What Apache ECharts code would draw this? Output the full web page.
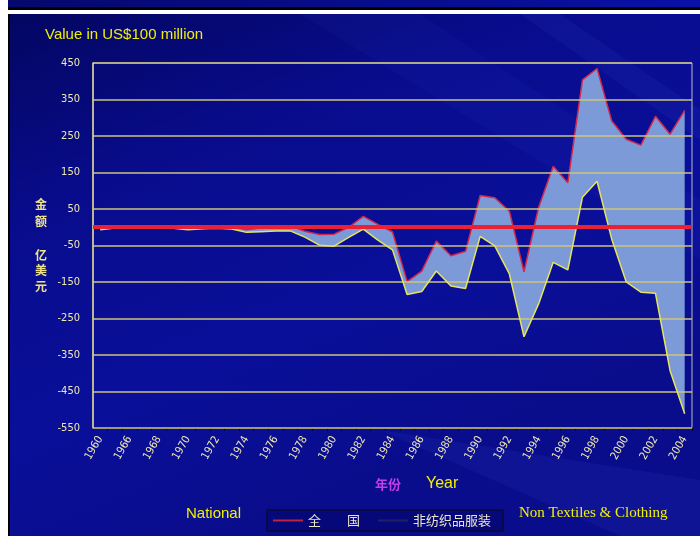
<!DOCTYPE html>
<html>
<head>
<meta charset="utf-8">
<script src="https://cdn.jsdelivr.net/npm/echarts@6/dist/echarts.min.js"></script>
<style>
  html, body { margin: 0; padding: 0; background: #ffffff; }
  .frame { position: absolute; left: 8px; width: 692px; }
  #topStrip { top: 0; height: 7px; background: linear-gradient(90deg, #05086c, #0a10a6); }
  #topRule { top: 7px; height: 3px; background: #000000; }
  #chart { position: absolute; left: 0; top: 0; width: 700px; height: 536px; }
</style>
</head>
<body>
<div class="frame" id="topStrip"></div>
<div class="frame" id="topRule"></div>
<div id="chart"></div>
<script>
// Trade balance, 100 million US$
const years = ['1960', '1965', '1966', '1967', '1968', '1969', '1970', '1971', '1972', '1973',
  '1974', '1975', '1976', '1977', '1978', '1979', '1980', '1981', '1982', '1983',
  '1984', '1985', '1986', '1987', '1988', '1989', '1990', '1991', '1992', '1993',
  '1994', '1995', '1996', '1997', '1998', '1999', '2000', '2001', '2002', '2003', '2004'];

// 全国 (national total)
const national = [-2, 1, 2, 1, 1, 2, -1, 1, 2, 1,
  -7, -2, 1, 4, -11, -20, -19, 0, 30, 8,
  -13, -149, -120, -38, -78, -66, 87, 81, 44, -122,
  54, 167, 122, 404, 435, 292, 241, 225, 304, 255, 320];

// 非纺织品服装 (excluding textiles & clothing)
const nonTextile = [-7, -2, -2, -3, -3, -3, -7, -4, -3, -5,
  -14, -12, -10, -10, -27, -49, -52, -28, -5, -35,
  -62, -184, -176, -120, -161, -168, -25, -51, -128, -300,
  -210, -96, -117, 82, 126, -32, -150, -178, -181, -393, -511];

const yTicks = [-550, 450, 100]; // min, max, step

const chart = echarts.init(document.getElementById('chart'), null, { renderer: 'canvas' });

// gap between the two series, stacked on top of the non-textile line
const gap = national.map((v, i) => v - nonTextile[i]);

const labelColor = '#efe9b2';
const narrowFont = "'Liberation Sans Narrow', 'DejaVu Sans Condensed', sans-serif";

const yNameChars = [['金', 205], ['额', 222], ['亿', 256], ['美', 271], ['元', 287]];

chart.setOption({
  backgroundColor: 'transparent',
  animation: false,
  graphic: [
    // slide panel
    { type: 'rect', z: -100, shape: { x: 8, y: 14, width: 692, height: 522 },
      style: { fill: new echarts.graphic.LinearGradient(0, 0, 0.3, 1, [
        { offset: 0, color: '#030660' },
        { offset: 0.35, color: '#080c8c' },
        { offset: 0.7, color: '#0a0f9a' },
        { offset: 1, color: '#090d8c' }]) } },
    { type: 'rect', z: -100, shape: { x: 8, y: 14, width: 2, height: 522 }, style: { fill: '#000000' } },
    // soft diagonal streaks in the backdrop
    { type: 'polygon', z: -99, shape: { points: [[300, 14], [420, 14], [700, 200], [700, 260]] },
      style: { fill: 'rgba(60,90,230,0.06)' } },
    { type: 'polygon', z: -99, shape: { points: [[520, 14], [560, 14], [700, 110], [700, 140]] },
      style: { fill: 'rgba(90,120,240,0.07)' } },
    { type: 'polygon', z: -99, shape: { points: [[380, 430], [700, 480], [700, 536], [620, 536]] },
      style: { fill: 'rgba(80,110,240,0.08)' } },

    // texts
    { type: 'text', z: 100, left: 45, top: 27,
      style: { text: 'Value in US$100 million', fill: '#f2f000', font: '15px "Liberation Sans", Arial, sans-serif' } },
    ...yNameChars.map(([c, y]) => ({ type: 'text', z: 100, left: 35, top: y - 7,
      style: { text: c, fill: '#efe38a', font: 'bold 12px "Noto Sans CJK SC", sans-serif' } })),
    { type: 'text', z: 100, left: 375, top: 478,
      style: { text: '年份', fill: '#c23ce8', font: 'bold 13px "Noto Sans CJK SC", sans-serif' } },
    { type: 'text', z: 100, left: 426, top: 476,
      style: { text: 'Year', fill: '#f2f000', font: '16px "Liberation Sans", Arial, sans-serif' } },
    { type: 'text', z: 100, left: 186, top: 506,
      style: { text: 'National', fill: '#f2f000', font: '15px "Liberation Sans", Arial, sans-serif' } },
    { type: 'text', z: 100, left: 519, top: 506,
      style: { text: 'Non Textiles & Clothing', fill: '#f2f000', font: '15px "Liberation Serif", "Times New Roman", serif' } }
  ],
  grid: {
    left: 93, right: 8, top: 63, bottom: 108,
    show: true, borderColor: '#b8b8c8', borderWidth: 1, backgroundColor: 'transparent'
  },
  legend: {
    left: 267, top: 510,
    padding: [4, 12, 4, 6],
    itemGap: 18,
    itemWidth: 30, itemHeight: 2,
    icon: 'rect',
    backgroundColor: '#06087a',
    borderColor: '#0a0a3a', borderWidth: 1.5,
    textStyle: { color: '#ebe6c8', fontSize: 13, fontFamily: '"Noto Sans CJK SC", serif' },
    formatter: n => n === '全国' ? '全　　国' : n,
    data: [
      { name: '全国', itemStyle: { color: '#c0223e' } },
      { name: '非纺织品服装', itemStyle: { color: '#20206a' } }
    ]
  },
  xAxis: {
    type: 'category',
    data: years,
    boundaryGap: true,
    axisLine: { onZero: false, lineStyle: { color: '#060630', width: 1.5 } },
    axisTick: { show: true, interval: 0, length: 3, lineStyle: { color: '#060630' } },
    axisLabel: {
      interval: 1, rotate: 60, margin: 9,
      color: labelColor, fontSize: 11, fontFamily: narrowFont
    },
    splitLine: { show: false }
  },
  yAxis: {
    type: 'value',
    min: yTicks[0], max: yTicks[1], interval: yTicks[2],
    z: 3,
    axisLine: { show: true, lineStyle: { color: '#d8d290', width: 1.5 } },
    axisTick: { show: false },
    axisLabel: { color: labelColor, fontSize: 11, fontFamily: narrowFont, margin: 13 },
    splitLine: { show: true, lineStyle: { color: '#cbc47c', width: 1.5 } }
  },
  series: [
    {
      name: '非纺织品服装',
      type: 'line',
      data: nonTextile,
      stack: 'balance',
      stackStrategy: 'all',
      symbol: 'none',
      z: 4,
      lineStyle: { color: '#e6e45c', width: 1.5 },
      itemStyle: { color: '#e6e45c' }
    },
    {
      name: '全国',
      type: 'line',
      data: gap,
      stack: 'balance',
      stackStrategy: 'all',
      symbol: 'none',
      z: 2,
      lineStyle: { color: '#d0284a', width: 1.5 },
      itemStyle: { color: '#d0284a' },
      areaStyle: { color: '#7c9ad8', opacity: 1 },
      markLine: {
        silent: true, symbol: 'none', label: { show: false },
        lineStyle: { color: '#ea2035', width: 4, type: 'solid' },
        data: [{ yAxis: 0 }]
      }
    }
  ]
});
</script>
</body>
</html>
